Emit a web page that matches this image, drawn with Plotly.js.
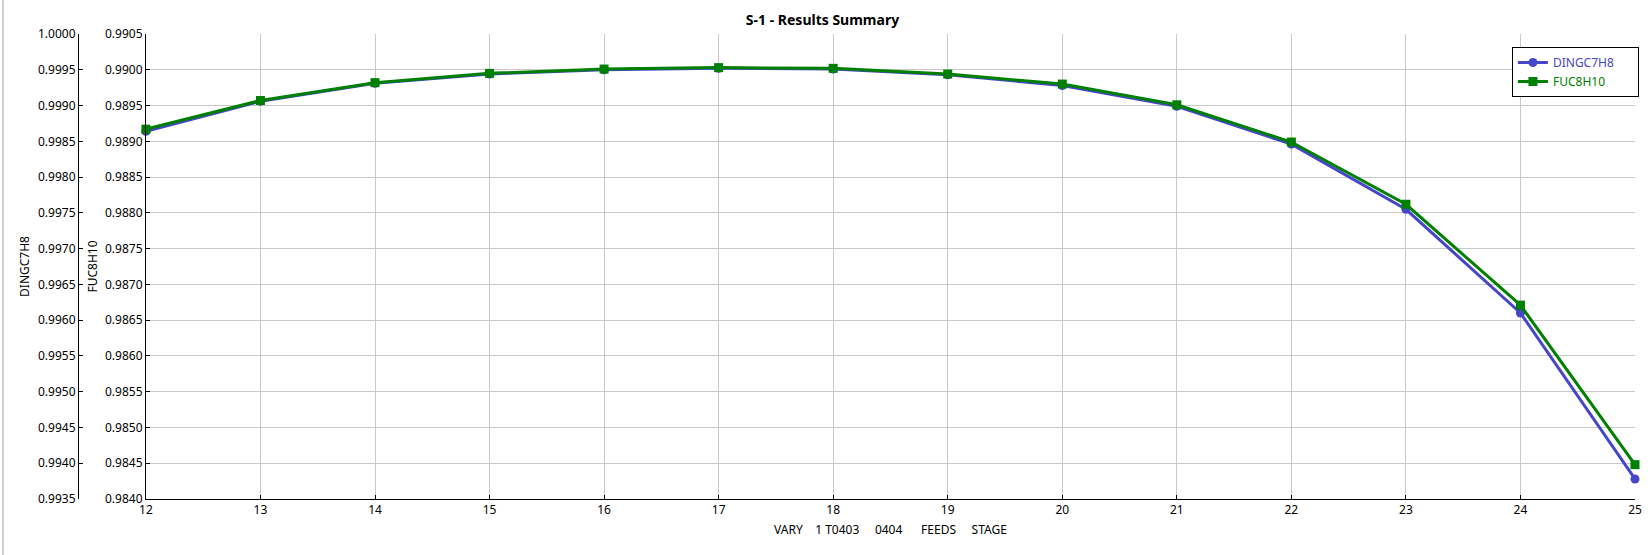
<!DOCTYPE html>
<html>
<head>
<meta charset="utf-8">
<script src="https://cdn.plot.ly/plotly-3.0.1.min.js"></script>
<style>
  html, body { margin: 0; padding: 0; background: #fff; }
  #chart { width: 1648px; height: 555px; }
</style>
</head>
<body>
<div id="chart"></div>
<script>
// ---- data ----
const stages = [12, 13, 14, 15, 16, 17, 18, 19, 20, 21, 22, 23, 24, 25];
const dingc7h8 = [0.99864, 0.99906, 0.99931, 0.99944, 0.99950, 0.99952, 0.99951, 0.99943, 0.99928, 0.99899, 0.99846, 0.99755, 0.99610, 0.99378];
const fuc8h10  = [0.98917, 0.98957, 0.98982, 0.98995, 0.99001, 0.99003, 0.99002, 0.98994, 0.98980, 0.98951, 0.98899, 0.98812, 0.98671, 0.98448];
const seriesNames = ["DINGC7H8", "FUC8H10"];
const xTitle = "VARY    1 T0403     0404      FEEDS     STAGE";
const chartTitle = "S-1 - Results Summary";

const blue = "#4646c8";
const green = "#008000";
const font = "'Segoe UI', 'Noto Sans', 'Open Sans', sans-serif";
const pad = "&nbsp;&nbsp;&nbsp;&nbsp;&nbsp;&nbsp;";

const traces = [
  {
    x: stages, y: dingc7h8, name: '<span style="color:' + blue + '">' + seriesNames[0] + '</span>' + pad,
    type: 'scatter', mode: 'lines+markers', yaxis: 'y', xaxis: 'x', cliponaxis: false,
    line: { color: blue, width: 3 },
    marker: { color: blue, size: 9, symbol: 'circle' }
  },
  {
    x: stages, y: fuc8h10, name: '<span style="color:' + green + '">' + seriesNames[1] + '</span>' + pad,
    type: 'scatter', mode: 'lines+markers', yaxis: 'y2', xaxis: 'x', cliponaxis: false,
    line: { color: green, width: 3 },
    marker: { color: green, size: 9, symbol: 'square' }
  }
];

const gridColor = '#c8c8c8';
const tickFont = { family: font, size: 12, color: '#000' };

const layout = {
  width: 1648, height: 555,
  margin: { l: 10, r: 12, t: 34, b: 56, pad: 0 },
  paper_bgcolor: '#fff', plot_bgcolor: '#fff',
  font: { family: font, size: 12, color: '#000' },
  title: {
    text: '<b>' + chartTitle + '</b>',
    font: { family: font, size: 14, color: '#000' },
    x: 0.5, xref: 'paper', xanchor: 'center',
    y: 1 - 20 / 555, yref: 'container', yanchor: 'middle'
  },
  showlegend: true,
  legend: {
    x: 0.9237, xanchor: 'left', y: 0.972, yanchor: 'top',
    bgcolor: '#fff', bordercolor: '#000', borderwidth: 1,
    font: { family: font, size: 12 },
    tracegroupgap: 2
  },
  xaxis: {
    domain: [0.08364, 1],
    range: [12, 25], dtick: 1, tick0: 12,
    showgrid: true, gridcolor: gridColor, gridwidth: 1,
    zeroline: false, showline: true, linecolor: '#000', linewidth: 1,
    ticks: 'inside', ticklen: 4, tickcolor: '#000',
    tickfont: tickFont,
    anchor: 'y2',
    title: { text: xTitle, font: { family: font, size: 12, color: '#000' }, standoff: 8 }
  },
  yaxis: {
    range: [0.9935, 1.0000], dtick: 0.0005, tick0: 0.9935, tickformat: '.4f',
    anchor: 'free', position: 0.04182, side: 'left',
    showgrid: true, gridcolor: gridColor, gridwidth: 1,
    zeroline: false, showline: true, linecolor: '#000', linewidth: 1,
    ticks: 'inside', ticklen: 4, tickcolor: '#000',
    tickfont: tickFont,
    title: { text: seriesNames[0], font: { family: font, size: 12, color: '#000' }, standoff: 4 }
  },
  yaxis2: {
    range: [0.9840, 0.9905], dtick: 0.0005, tick0: 0.9840, tickformat: '.4f',
    overlaying: 'y', anchor: 'x', side: 'left',
    showgrid: false,
    zeroline: false, showline: true, linecolor: '#000', linewidth: 1,
    ticks: 'inside', ticklen: 4, tickcolor: '#000',
    tickfont: tickFont,
    title: { text: seriesNames[1], font: { family: font, size: 12, color: '#000' }, standoff: 4 }
  },
  shapes: [
    { type: 'line', xref: 'paper', yref: 'paper', x0: -7 / 1626, x1: -7 / 1626, y0: -56 / 465, y1: 1 + 34 / 465,
      line: { color: '#a0a0a0', width: 1 } }
  ]
};

Plotly.newPlot('chart', traces, layout, { displayModeBar: false, staticPlot: true });
</script>
</body>
</html>
